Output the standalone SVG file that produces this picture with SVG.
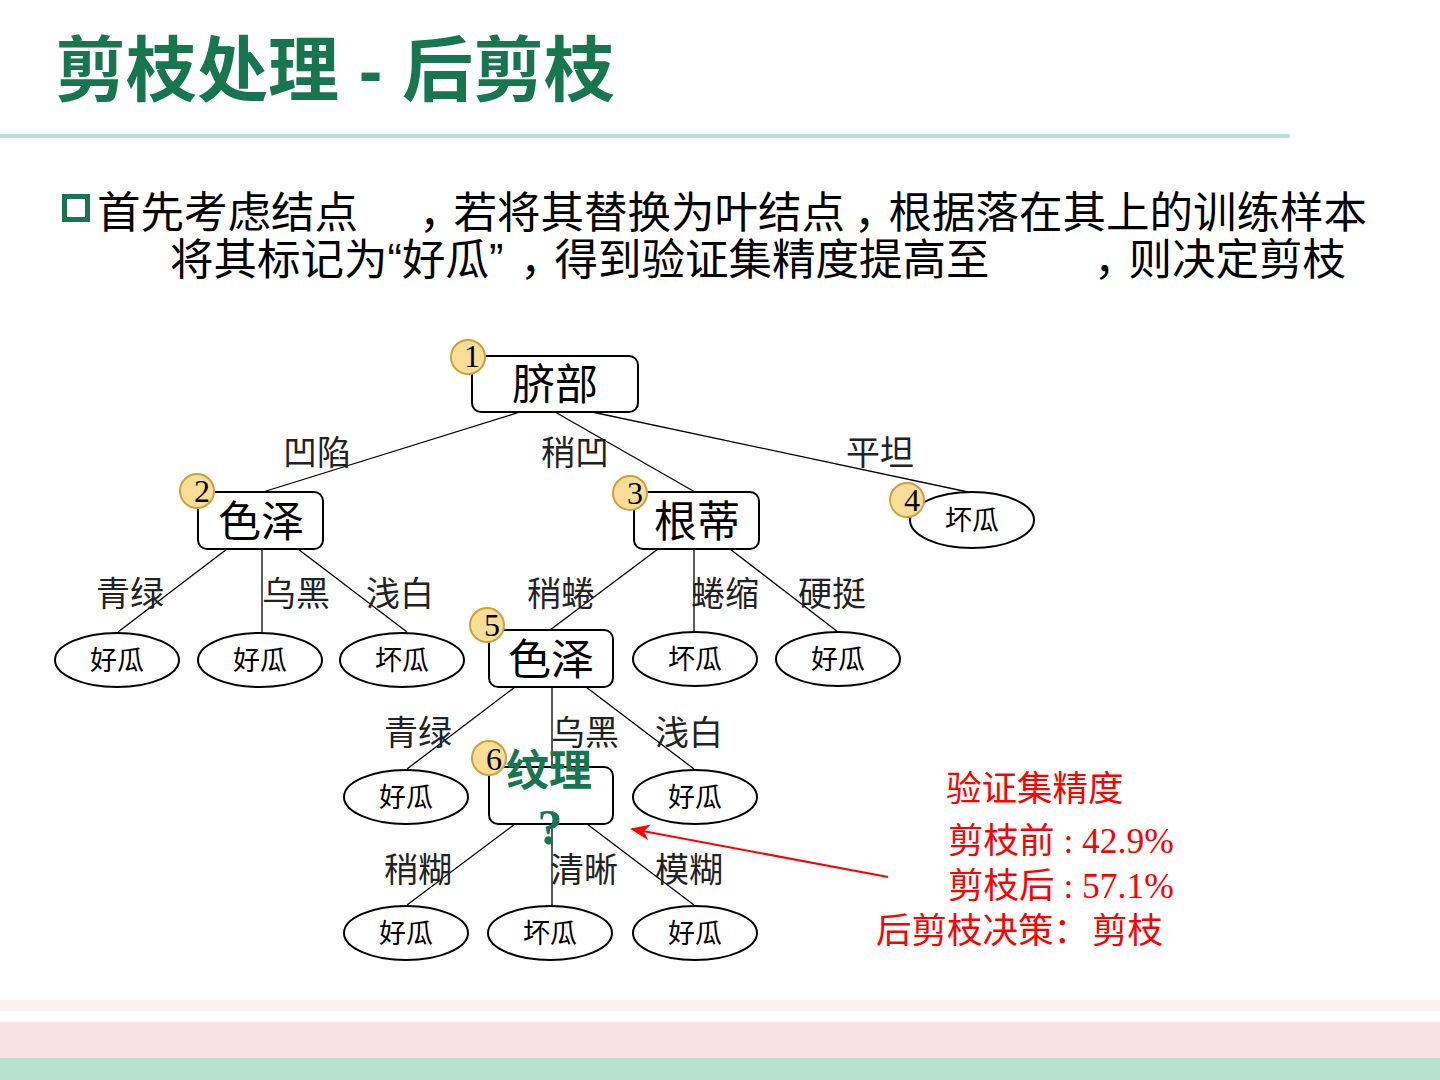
<svg xmlns="http://www.w3.org/2000/svg" width="1440" height="1080" viewBox="0 0 1440 1080">
<style>
.title{font-family:"Liberation Sans","Noto Sans CJK SC",sans-serif;font-weight:bold;font-size:71px;fill:#17754F}
.body{font-family:"Liberation Sans","Noto Sans CJK SC",sans-serif;font-size:43.5px;fill:#000}
.box{fill:#fff;stroke:#000;stroke-width:2}
.leaf{fill:#fff;stroke:#000;stroke-width:2}
.ntxt{font-family:"Noto Sans CJK SC",sans-serif;font-size:43px;fill:#000;text-anchor:middle}
.ltxt{font-family:"Noto Sans CJK SC",sans-serif;font-size:27px;fill:#000;text-anchor:middle}
.elab{font-family:"Noto Sans CJK SC",sans-serif;font-size:34px;fill:#222;text-anchor:middle}
.badge{fill:#FADE98;stroke:#C9A43A;stroke-width:2}
.bnum{font-family:"Liberation Serif",serif;font-size:32px;fill:#000;text-anchor:middle}
.edge{stroke:#000;stroke-width:1.3;fill:none}
.red{font-family:"Liberation Serif","Noto Sans CJK SC",serif;font-size:35.5px;fill:#F00}
</style>
<defs>
<marker id="arr" viewBox="0 0 20 16" refX="18" refY="8" markerWidth="20" markerHeight="16" markerUnits="userSpaceOnUse" orient="auto">
<path d="M0,0 L20,8 L0,16 L6,8 Z" fill="#F00"/>
</marker>
</defs>
<rect width="1440" height="1080" fill="#fff"/>
<text class="title" x="55" y="95">剪枝处理 - 后剪枝</text>
<rect x="0" y="134" width="1290" height="4" fill="#B6E2D3"/>
<rect x="64.5" y="196.5" width="23" height="23" fill="none" stroke="#17754F" stroke-width="5"/>
<text class="body" x="97" y="228">首先考虑结点</text>
<text class="body" x="410" y="228"><tspan dx="9">，</tspan><tspan dx="-9">若将其替换为叶结点</tspan><tspan dx="9">，</tspan><tspan dx="-9">根据落在其上的训练样本</tspan></text>
<text class="body" x="170" y="275">将其标记为“好瓜”</text>
<text class="body" x="511" y="275"><tspan dx="9">，</tspan><tspan dx="-9">得到验证集精度提高至</tspan></text>
<text class="body" x="1085" y="275"><tspan dx="9">，</tspan><tspan dx="-9">则决定剪枝</tspan></text>
<g id="connectors">
<line class="edge" x1="520" y1="412" x2="263" y2="492"/>
<line class="edge" x1="555" y1="412" x2="695" y2="492"/>
<line class="edge" x1="592" y1="412" x2="968" y2="492"/>
<line class="edge" x1="227" y1="549" x2="118" y2="632"/>
<line class="edge" x1="262" y1="549" x2="262" y2="632"/>
<line class="edge" x1="298" y1="549" x2="407" y2="632"/>
<line class="edge" x1="658" y1="549" x2="550" y2="630"/>
<line class="edge" x1="694" y1="549" x2="694" y2="632"/>
<line class="edge" x1="730" y1="549" x2="838" y2="632"/>
<line class="edge" x1="515" y1="687" x2="407" y2="769"/>
<line class="edge" x1="552" y1="687" x2="552" y2="767"/>
<line class="edge" x1="586" y1="687" x2="694" y2="769"/>
<line class="edge" x1="515" y1="824" x2="407" y2="905"/>
<line class="edge" x1="552" y1="824" x2="552" y2="905"/>
<line class="edge" x1="587" y1="824" x2="694" y2="905"/>
<line x1="888" y1="877" x2="632" y2="829" stroke="#F00" stroke-width="2" marker-end="url(#arr)"/>
</g>
<g id="edge-labels">
<text class="elab" x="317" y="465">凹陷</text>
<text class="elab" x="575" y="465">稍凹</text>
<text class="elab" x="880" y="465">平坦</text>
<text class="elab" x="130" y="606">青绿</text>
<text class="elab" x="296" y="606">乌黑</text>
<text class="elab" x="400" y="606">浅白</text>
<text class="elab" x="561" y="606">稍蜷</text>
<text class="elab" x="725" y="606">蜷缩</text>
<text class="elab" x="832" y="606">硬挺</text>
<text class="elab" x="418" y="745">青绿</text>
<text class="elab" x="585" y="745">乌黑</text>
<text class="elab" x="689" y="745">浅白</text>
<text class="elab" x="418" y="882">稍糊</text>
<text class="elab" x="584" y="882">清晰</text>
<text class="elab" x="689" y="882">模糊</text>
</g>
<g id="node1">
<rect class="box" x="472" y="356" width="166" height="56" rx="9"/>
<text class="ntxt" x="555" y="400">脐部</text>
<circle class="badge" cx="468" cy="357" r="17"/>
<text class="bnum" x="472" y="367">1</text>
</g>
<g id="node2">
<rect class="box" x="198" y="492" width="125" height="57" rx="9"/>
<text class="ntxt" x="261" y="537">色泽</text>
<circle class="badge" cx="197" cy="491" r="17"/>
<text class="bnum" x="202" y="502">2</text>
</g>
<g id="node3">
<rect class="box" x="634" y="492" width="125" height="57" rx="9"/>
<text class="ntxt" x="697" y="537">根蒂</text>
<circle class="badge" cx="630" cy="493" r="17"/>
<text class="bnum" x="635" y="504">3</text>
</g>
<g id="node4">
<ellipse class="leaf" cx="972" cy="520" rx="62" ry="28"/>
<text class="ltxt" x="972" y="530">坏瓜</text>
<circle class="badge" cx="907" cy="500" r="17"/>
<text class="bnum" x="912" y="511">4</text>
</g>
<g id="node5">
<rect class="box" x="489" y="630" width="124" height="57" rx="9"/>
<text class="ntxt" x="551" y="675">色泽</text>
<circle class="badge" cx="487" cy="625" r="17"/>
<text class="bnum" x="492" y="636">5</text>
</g>
<g id="node6">
<rect class="box" x="489" y="767" width="124" height="57" rx="9"/>
<circle class="badge" cx="489" cy="758" r="17"/>
<text class="bnum" x="494" y="770">6</text>
<text x="549" y="786" font-family="Noto Sans CJK SC,sans-serif" font-weight="bold" font-size="43" fill="#17754F" text-anchor="middle">纹理</text>
<text x="550" y="844" font-family="Liberation Serif,serif" font-weight="bold" font-size="50" fill="#17754F" text-anchor="middle">?</text>
</g>
<g id="leaf-a"><ellipse class="leaf" cx="117" cy="660" rx="62" ry="27"/><text class="ltxt" x="117" y="670">好瓜</text></g>
<g id="leaf-b"><ellipse class="leaf" cx="260" cy="660" rx="62" ry="27"/><text class="ltxt" x="260" y="670">好瓜</text></g>
<g id="leaf-c"><ellipse class="leaf" cx="402" cy="660" rx="62" ry="27"/><text class="ltxt" x="402" y="670">坏瓜</text></g>
<g id="leaf-d"><ellipse class="leaf" cx="695" cy="659" rx="62" ry="27"/><text class="ltxt" x="695" y="669">坏瓜</text></g>
<g id="leaf-e"><ellipse class="leaf" cx="838" cy="659" rx="62" ry="27"/><text class="ltxt" x="838" y="669">好瓜</text></g>
<g id="leaf-f"><ellipse class="leaf" cx="406" cy="797" rx="62" ry="27"/><text class="ltxt" x="406" y="807">好瓜</text></g>
<g id="leaf-g"><ellipse class="leaf" cx="695" cy="797" rx="62" ry="27"/><text class="ltxt" x="695" y="807">好瓜</text></g>
<g id="leaf-h"><ellipse class="leaf" cx="406" cy="933" rx="62" ry="27"/><text class="ltxt" x="406" y="943">好瓜</text></g>
<g id="leaf-i"><ellipse class="leaf" cx="550" cy="933" rx="62" ry="27"/><text class="ltxt" x="550" y="943">坏瓜</text></g>
<g id="leaf-j"><ellipse class="leaf" cx="695" cy="933" rx="62" ry="27"/><text class="ltxt" x="695" y="943">好瓜</text></g>
<g id="accuracy">
<text class="red" x="946" y="801">验证集精度</text>
<text class="red" x="948" y="853">剪枝前 : 42.9%</text>
<text class="red" x="948" y="898">剪枝后 : 57.1%</text>
<text class="red" x="876" y="943">后剪枝决策：<tspan dx="3">剪枝</tspan></text>
</g>
<rect x="0" y="1000" width="1440" height="11" fill="#FDF0F1"/>
<rect x="0" y="1022" width="1440" height="36" fill="#FAE2E4"/>
<rect x="0" y="1058" width="1440" height="22" fill="#B7E2D1"/>
</svg>
